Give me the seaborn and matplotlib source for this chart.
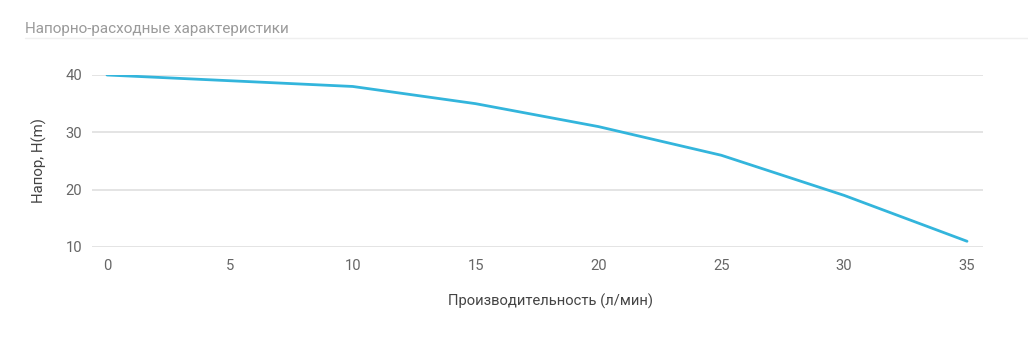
import matplotlib
matplotlib.use("Agg")
import matplotlib.pyplot as plt
import seaborn as sns
import pandas as pd
from matplotlib.lines import Line2D

flow = [0, 5, 10, 15, 20, 25, 30, 35]
head = [40, 39, 38, 35, 31, 26, 19, 11]
x_ticks = [0, 5, 10, 15, 20, 25, 30, 35]
y_ticks = [10, 20, 30, 40]
title = "Напорно-расходные характеристики"
xlabel = "Производительность (л/мин)"
ylabel = "Напор, H(m)"

sns.set_theme(style="white")
plt.rcParams['font.family'] = ['Roboto', 'DejaVu Sans']

df = pd.DataFrame({"flow": flow, "head": head})

fig = plt.figure(figsize=(10.28, 3.41), dpi=100)
ax = fig.add_axes([92/1028, 1-247/341, (983-92)/1028, (247-75)/341])
sns.lineplot(data=df, x="flow", y="head", ax=ax, color="#33b5dc", linewidth=2)

ax.set_xlim(-0.61, 35.65)
ax.set_ylim(10, 40)
ax.set_xticks(x_ticks)
ax.set_yticks(y_ticks)
ax.grid(axis="y", color="#e2e2e2", linewidth=1.3)
ax.set_axisbelow(True)
for s in ax.spines.values():
    s.set_visible(False)
ax.tick_params(axis="both", length=0, labelsize=10.6, labelcolor="#666666")
ax.tick_params(axis="x", pad=9)
ax.tick_params(axis="y", pad=7)
ax.set_xlabel(xlabel, fontsize=10.6, color="#444444")
ax.xaxis.set_label_coords((550-92)/891, (247-294)/172)
ax.set_ylabel(ylabel, fontsize=10.8, color="#444444", labelpad=13)

fig.text(25/1028, 1-29/341, title, fontsize=11, color="#9a9a9a", va="center", ha="left")
fig.add_artist(Line2D([25/1028, 1.0], [1-38/341, 1-38/341], color="#efefef", linewidth=1, transform=fig.transFigure))

fig.savefig("out.png", dpi=100)
